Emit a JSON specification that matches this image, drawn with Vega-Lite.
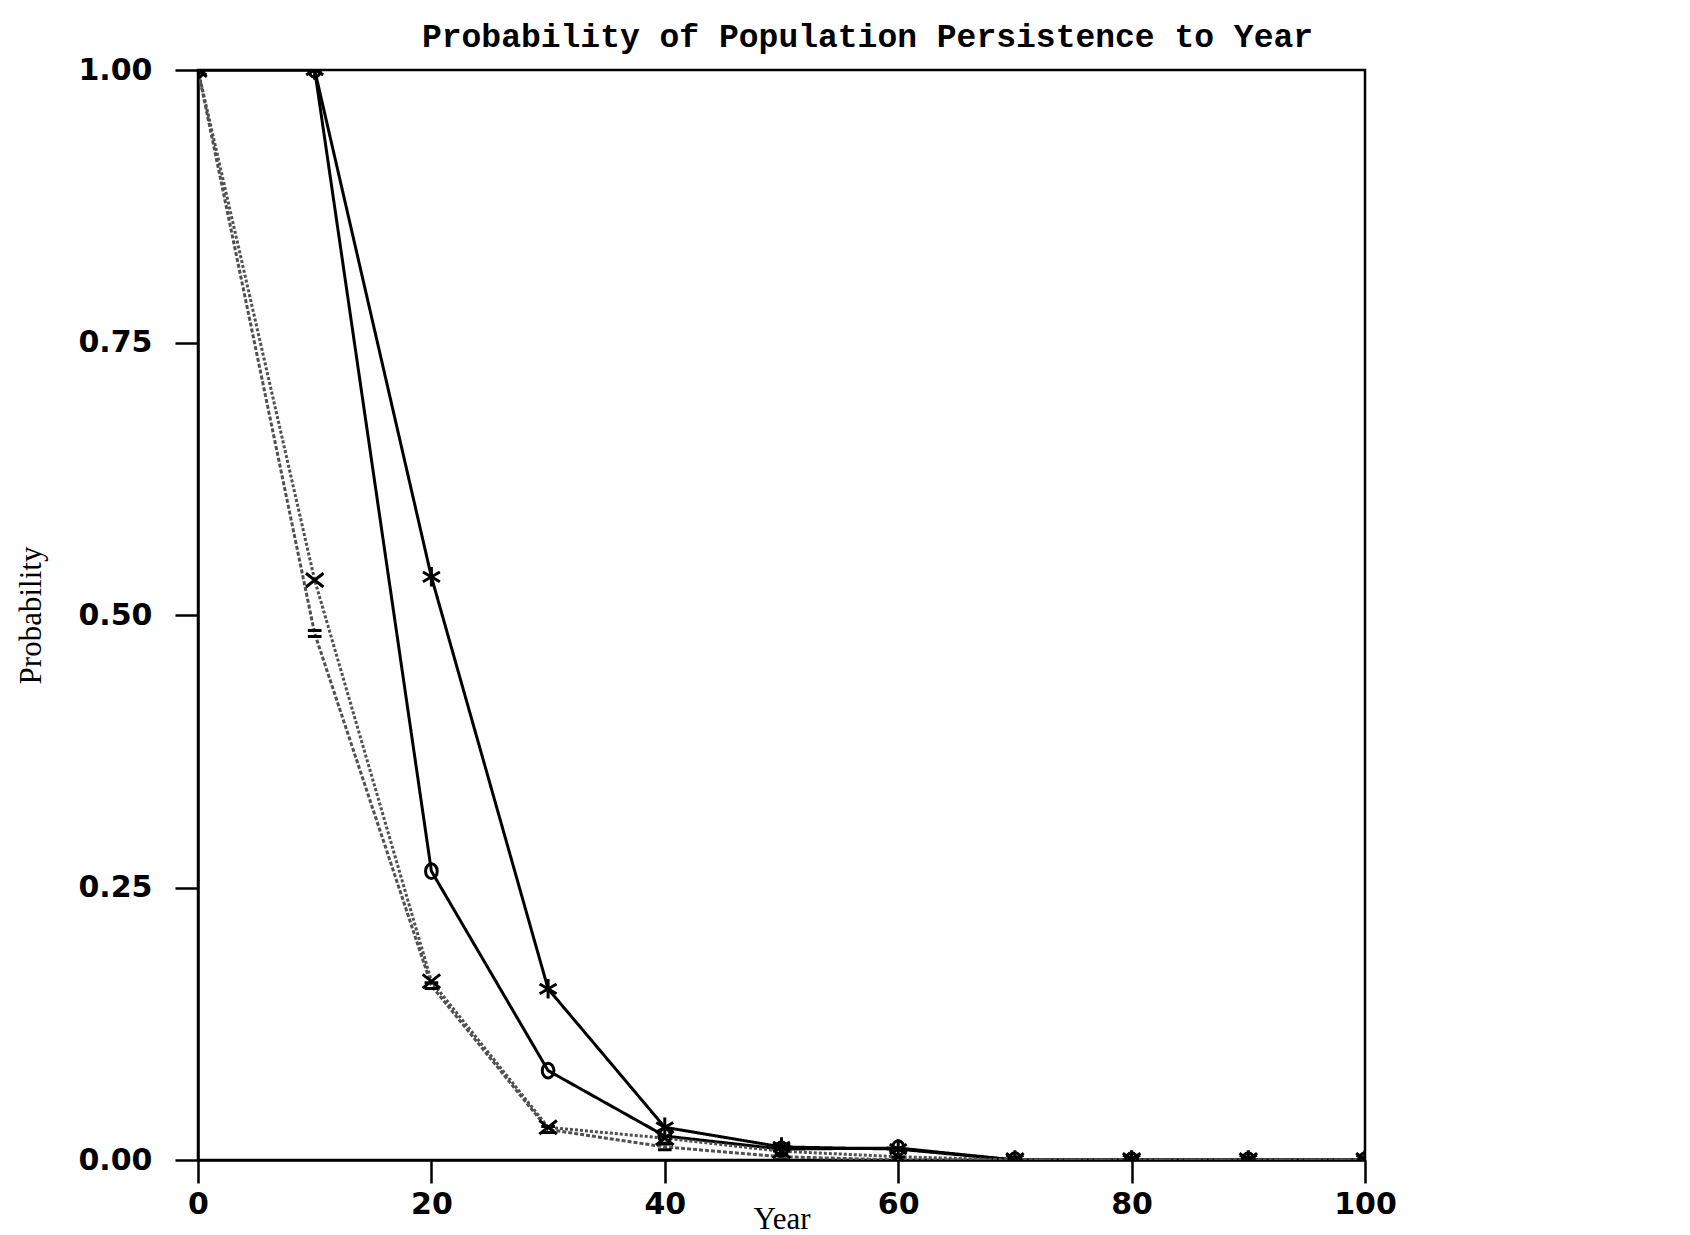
{
  "$schema": "https://vega.github.io/schema/vega-lite/v6.json",
  "autosize": "none",
  "width": 1167,
  "height": 1090,
  "padding": {"left": 198, "top": 70, "right": 325, "bottom": 75},
  "background": "white",
  "title": {
    "text": "Probability of Population Persistence to Year",
    "font": "Liberation Mono",
    "fontWeight": "bold",
    "fontSize": 33,
    "color": "black",
    "anchor": "middle",
    "frame": "group",
    "dx": 86,
    "offset": 1
  },
  "config": {
    "view": {"stroke": "black", "strokeWidth": 2.5},
    "axis": {
      "domainColor": "black",
      "domainWidth": 2.5,
      "tickColor": "black",
      "tickWidth": 2.5,
      "tickSize": 23,
      "grid": false,
      "labelFont": "DejaVu Sans",
      "labelFontWeight": "bold",
      "labelFontSize": 30,
      "labelColor": "black",
      "labelFlush": false,
      "labelOverlap": false,
      "titleFont": "Liberation Serif",
      "titleFontWeight": "normal",
      "titleFontSize": 31,
      "titleColor": "black"
    }
  },
  "data": {
    "values": [
      {"series": "Scenario 1", "year": 0, "p": 1.0},
      {"series": "Scenario 1", "year": 10, "p": 1.0},
      {"series": "Scenario 1", "year": 20, "p": 0.535},
      {"series": "Scenario 1", "year": 30, "p": 0.157},
      {"series": "Scenario 1", "year": 40, "p": 0.03},
      {"series": "Scenario 1", "year": 50, "p": 0.012},
      {"series": "Scenario 1", "year": 60, "p": 0.01},
      {"series": "Scenario 1", "year": 70, "p": 0.0},
      {"series": "Scenario 1", "year": 80, "p": 0.0},
      {"series": "Scenario 1", "year": 90, "p": 0.0},
      {"series": "Scenario 1", "year": 100, "p": 0.0},
      {"series": "Scenario 2", "year": 0, "p": 1.0},
      {"series": "Scenario 2", "year": 10, "p": 1.0},
      {"series": "Scenario 2", "year": 20, "p": 0.265},
      {"series": "Scenario 2", "year": 30, "p": 0.082},
      {"series": "Scenario 2", "year": 40, "p": 0.022},
      {"series": "Scenario 2", "year": 50, "p": 0.01},
      {"series": "Scenario 2", "year": 60, "p": 0.011},
      {"series": "Scenario 2", "year": 70, "p": 0.0},
      {"series": "Scenario 2", "year": 80, "p": 0.0},
      {"series": "Scenario 2", "year": 90, "p": 0.0},
      {"series": "Scenario 2", "year": 100, "p": 0.0},
      {"series": "Scenario 3", "year": 0, "p": 1.0},
      {"series": "Scenario 3", "year": 10, "p": 0.532},
      {"series": "Scenario 3", "year": 20, "p": 0.164},
      {"series": "Scenario 3", "year": 30, "p": 0.03},
      {"series": "Scenario 3", "year": 40, "p": 0.02},
      {"series": "Scenario 3", "year": 50, "p": 0.008},
      {"series": "Scenario 3", "year": 60, "p": 0.003},
      {"series": "Scenario 3", "year": 70, "p": 0.0},
      {"series": "Scenario 3", "year": 80, "p": 0.0},
      {"series": "Scenario 3", "year": 90, "p": 0.0},
      {"series": "Scenario 3", "year": 100, "p": 0.0},
      {"series": "Scenario 4", "year": 0, "p": 1.0},
      {"series": "Scenario 4", "year": 10, "p": 0.483},
      {"series": "Scenario 4", "year": 20, "p": 0.16},
      {"series": "Scenario 4", "year": 30, "p": 0.028},
      {"series": "Scenario 4", "year": 40, "p": 0.012},
      {"series": "Scenario 4", "year": 50, "p": 0.003},
      {"series": "Scenario 4", "year": 60, "p": 0.0},
      {"series": "Scenario 4", "year": 70, "p": 0.0},
      {"series": "Scenario 4", "year": 80, "p": 0.0},
      {"series": "Scenario 4", "year": 90, "p": 0.0},
      {"series": "Scenario 4", "year": 100, "p": 0.0}
    ]
  },
  "encoding": {
    "x": {
      "field": "year",
      "type": "quantitative",
      "scale": {"domain": [0, 100], "nice": false, "zero": false},
      "axis": {
        "title": "Year",
        "values": [0, 20, 40, 60, 80, 100],
        "format": "d",
        "labelPadding": 6,
        "titlePadding": -15
      }
    },
    "y": {
      "field": "p",
      "type": "quantitative",
      "scale": {"domain": [0, 1], "nice": false},
      "axis": {
        "title": "Probability",
        "values": [0, 0.25, 0.5, 0.75, 1],
        "format": ".2f",
        "labelPadding": 23,
        "titlePadding": 30
      }
    }
  },
  "layer": [
    {
      "mark": {"type": "line", "clip": true},
      "encoding": {
        "detail": {"field": "series", "type": "nominal"},
        "order": {"field": "year", "type": "quantitative"},
        "color": {
          "field": "series",
          "type": "nominal",
          "scale": {"domain": ["Scenario 1", "Scenario 2", "Scenario 3", "Scenario 4"], "range": ["black", "black", "#505050", "#505050"]},
          "legend": null
        },
        "strokeDash": {
          "field": "series",
          "type": "nominal",
          "scale": {"domain": ["Scenario 1", "Scenario 2", "Scenario 3", "Scenario 4"], "range": [[1, 0], [1, 0], [3, 2], [4, 2]]},
          "legend": null
        },
        "strokeWidth": {
          "field": "series",
          "type": "nominal",
          "scale": {"domain": ["Scenario 1", "Scenario 2", "Scenario 3", "Scenario 4"], "range": [3, 3, 1.8, 1.8]},
          "legend": null
        }
      }
    },
    {
      "mark": {"type": "point", "filled": false, "stroke": "black", "strokeWidth": 3, "size": 380, "opacity": 1, "clip": true},
      "encoding": {
        "shape": {
          "field": "series",
          "type": "nominal",
          "scale": {
            "domain": ["Scenario 1", "Scenario 2", "Scenario 3", "Scenario 4"],
            "range": [
              "M0,-1L0,1M-0.87,-0.5L0.87,0.5M-0.87,0.5L0.87,-0.5",
              "M-0.6,0A0.6,0.75 0 1,0 0.6,0A0.6,0.75 0 1,0 -0.6,0Z",
              "M-0.9,-0.7L0.9,0.7M-0.9,0.7L0.9,-0.7",
              "M-0.7,-0.3L0.7,-0.3M-0.7,0.3L0.7,0.3"
            ]
          },
          "legend": null
        }
      }
    }
  ]
}
